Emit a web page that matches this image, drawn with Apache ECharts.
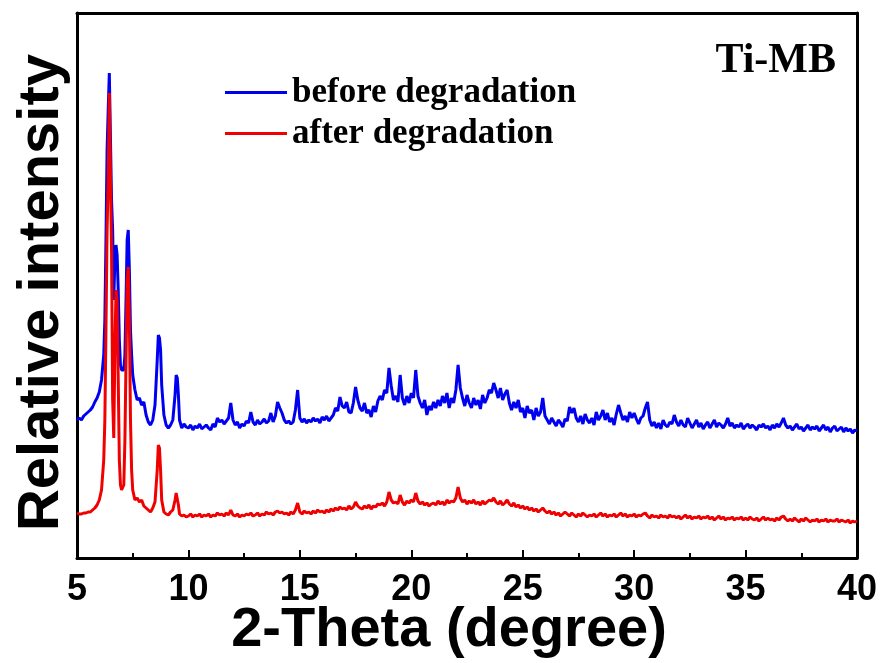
<!DOCTYPE html>
<html>
<head>
<meta charset="utf-8">
<script src="https://cdn.jsdelivr.net/npm/echarts@6/dist/echarts.min.js"></script>
<style>
html,body{margin:0;padding:0;background:#fff;}
#chart{width:882px;height:663px;}
</style>
</head>
<body>
<div id="chart"></div>
<script>
// ---- Data (2-theta in degrees, relative intensity in arbitrary units) ----
const seriesNames = ['before degradation', 'after degradation'];
const xTicks = [5, 10, 15, 20, 25, 30, 35, 40];

// fine-sampled low-angle peak region, 5.0 - 9.9 deg
const peakTheta = [5.0,5.1,5.2,5.3,5.4,5.5,5.6,5.7,5.8,5.9,6.0,6.1,6.2,6.25,6.3,6.35,6.4,6.45,6.5,6.55,6.6,6.65,6.7,6.75,6.8,6.85,6.9,6.95,7.0,7.05,7.1,7.15,7.2,7.25,7.3,7.35,7.4,7.45,7.5,7.6,7.7,7.8,7.9,8.0,8.1,8.2,8.3,8.4,8.5,8.6,8.65,8.7,8.75,8.8,8.9,9.0,9.1,9.2,9.3,9.4,9.45,9.5,9.55,9.6,9.7,9.8,9.9];
const beforePeak = [138,140,138,142,144,146,148,151,156,160,166,178,203,238,318,408,448,485,483,358,328,258,298,313,303,268,218,193,188,190,188,203,258,318,328,288,228,203,183,168,158,160,153,156,143,136,133,138,153,198,223,220,208,173,143,133,130,133,138,163,183,180,163,138,130,134,131];
const afterPeak  = [45,44,44,45,45,46,46,48,50,53,58,68,98,138,228,328,378,465,465,308,158,120,208,268,258,178,98,73,68,70,73,118,198,278,291,238,138,88,68,58,60,56,58,52,50,48,46,50,56,88,113,110,88,58,46,44,43,46,48,58,65,63,53,44,42,43,41];

// 10.0 - 40.0 deg, instrument step 0.1 deg
const tailStart = 10.0;
const tailStep = 0.1;
const beforeTail = [
130,133,128,132,130,134,129,131,133,130,
128,134,131,140,136,138,134,137,140,155,
138,133,136,130,134,132,137,135,146,136,
133,138,134,136,139,135,137,145,136,142,
156,150,145,138,135,137,134,136,148,168,
140,136,139,135,138,136,140,137,139,135,
141,138,142,137,140,143,150,147,161,152,
150,156,146,145,155,171,158,150,147,155,
145,148,141,152,146,157,162,158,168,165,
190,172,158,162,156,183,160,153,162,155,
165,160,188,162,155,150,158,143,152,148,
156,150,158,152,162,155,165,150,160,155,
168,193,170,160,152,163,155,150,160,153,
158,149,163,155,160,168,165,175,168,160,
170,158,164,168,155,148,156,150,158,146,
150,140,152,145,148,138,150,142,146,160,
142,138,134,140,136,132,138,135,131,139,
137,151,145,150,140,136,142,134,144,138,
135,140,133,146,138,142,148,138,145,136,
140,133,144,153,145,138,142,136,146,140,
145,139,134,140,142,150,156,138,132,136,
130,135,129,138,133,131,136,134,143,136,
132,138,133,131,140,135,130,134,138,131,
135,129,133,136,130,134,138,131,135,133,
130,134,140,132,135,130,133,131,135,129,
132,134,130,133,131,128,133,131,134,130,
132,128,133,130,134,131,135,140,133,130,
132,128,131,134,129,131,127,130,133,128,
131,129,132,127,130,133,128,131,126,130,
132,127,129,131,126,130,127,129,125,128,
127];
const afterTail = [
42,44,41,43,42,44,41,43,42,44,
41,43,42,45,43,44,42,45,43,48,
43,42,44,41,43,42,44,43,45,42,
43,45,42,44,43,46,44,45,43,46,
47,45,46,44,45,43,46,44,48,55,
46,44,47,45,46,44,47,45,48,46,
47,45,48,46,49,47,50,48,51,49,
50,48,52,49,51,56,52,50,49,52,
50,53,49,52,51,54,53,55,52,56,
66,58,55,56,54,63,56,53,57,55,
58,56,65,57,54,56,53,55,52,54,
55,53,57,54,56,53,58,55,57,56,
60,71,60,56,58,54,57,55,58,54,
56,53,57,54,56,58,57,60,56,54,
57,53,55,58,54,52,55,51,53,50,
52,49,51,48,50,47,49,46,48,50,
47,45,47,44,46,43,45,42,44,46,
44,42,45,43,41,44,42,45,43,41,
43,42,44,41,43,45,42,44,41,43,
42,44,41,43,45,42,44,41,43,42,
44,41,43,42,44,45,42,40,43,41,
42,40,43,41,42,40,43,41,42,40,
42,39,41,43,40,42,39,41,40,42,
39,41,40,42,39,41,38,40,42,39,
41,38,40,39,41,38,40,39,41,38,
40,38,41,39,38,40,37,39,41,38,
40,38,39,37,40,38,41,42,39,37,
39,37,40,38,36,39,37,40,38,36,
38,37,39,36,38,37,39,36,38,37,
37,39,36,38,37,36,38,35,37,36,
37];

// ---- Build [x, y] pairs ----
function buildPairs(peakY, tailY) {
  const out = [];
  for (let i = 0; i < peakTheta.length; i++) out.push([peakTheta[i], peakY[i]]);
  for (let i = 0; i < tailY.length; i++) out.push([+(tailStart + i * tailStep).toFixed(2), tailY[i]]);
  return out;
}
const beforeData = buildPairs(beforePeak, beforeTail);
const afterData = buildPairs(afterPeak, afterTail);

const chart = echarts.init(document.getElementById('chart'), null, {renderer: 'canvas'});
const axisFont = 'Liberation Sans, Arial, sans-serif';
const serifFont = 'Liberation Serif, Times New Roman, serif';

chart.setOption({
  backgroundColor: '#ffffff',
  animation: false,
  grid: {left: 77, right: 25, top: 13, bottom: 105, containLabel: false, outerBoundsMode: 'none'},
  legend: {
    orient: 'vertical',
    left: 220,
    top: 70,
    itemWidth: 62,
    itemHeight: 3,
    itemGap: 6,
    icon: 'rect',
    textStyle: {fontFamily: serifFont, fontWeight: 'bold', fontSize: 35, color: '#000', padding: [0,0,0,0]},
    data: seriesNames
  },
  graphic: [{
    type: 'text',
    right: 46,
    top: 40,
    style: {text: 'Ti-MB', fontFamily: serifFont, fontWeight: 'bold', fontSize: 42, fill: '#000'}
  }],
  xAxis: [{
    type: 'value',
    min: 5, max: 40, interval: 5,
    position: 'bottom',
    name: '2-Theta (degree)',
    nameLocation: 'middle',
    nameGap: 45,
    nameMoveOverlap: false,
    nameTextStyle: {fontFamily: axisFont, fontWeight: 'bold', fontSize: 56, color: '#000', padding: [0, 36, 0, 0]},
    axisLine: {show: true, onZero: false, lineStyle: {color: '#000', width: 3}},
    axisTick: {show: true, inside: true, length: 8, lineStyle: {color: '#000', width: 2}},
    minorTick: {show: true, splitNumber: 2, length: 5, lineStyle: {color: '#000', width: 2}},
    axisLabel: {fontFamily: axisFont, fontWeight: 'bold', fontSize: 36, color: '#000', margin: 14, formatter: function (v) { return xTicks.indexOf(v) >= 0 ? String(v) : ''; }},
    splitLine: {show: false}
  }, {
    type: 'value',
    min: 5, max: 40,
    position: 'top',
    axisLine: {show: true, onZero: false, lineStyle: {color: '#000', width: 3}},
    axisTick: {show: false},
    axisLabel: {show: false},
    splitLine: {show: false}
  }],
  yAxis: [{
    type: 'value',
    min: 0, max: 545,
    position: 'left',
    name: 'Relative intensity',
    nameLocation: 'middle',
    nameGap: 6,
    nameMoveOverlap: false,
    nameRotate: 90,
    nameTextStyle: {fontFamily: axisFont, fontWeight: 'bold', fontSize: 58, color: '#000', padding: [0, 14, 0, 0]},
    axisLine: {show: true, onZero: false, lineStyle: {color: '#000', width: 3}},
    axisTick: {show: false},
    axisLabel: {show: false},
    splitLine: {show: false}
  }, {
    type: 'value',
    min: 0, max: 545,
    position: 'right',
    axisLine: {show: true, onZero: false, lineStyle: {color: '#000', width: 3}},
    axisTick: {show: false},
    axisLabel: {show: false},
    splitLine: {show: false}
  }],
  series: [{
    name: seriesNames[0],
    type: 'line',
    data: beforeData,
    showSymbol: false,
    symbol: 'none',
    color: '#0000f0',
    lineStyle: {color: '#0000f0', width: 3},
    z: 2
  }, {
    name: seriesNames[1],
    type: 'line',
    data: afterData,
    showSymbol: false,
    symbol: 'none',
    color: '#f00000',
    lineStyle: {color: '#f00000', width: 3},
    z: 3
  }]
});
</script>
</body>
</html>
